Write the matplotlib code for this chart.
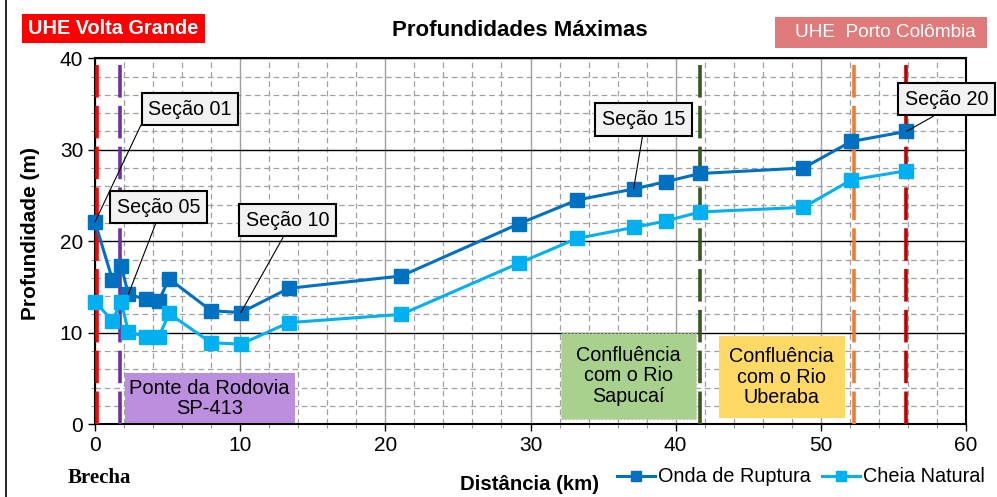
import matplotlib
matplotlib.use("Agg")
import matplotlib.pyplot as plt
from matplotlib.patches import Rectangle
from matplotlib.lines import Line2D
from matplotlib.ticker import MultipleLocator

plt.rcParams['font.family'] = ['Liberation Sans', 'DejaVu Sans']

# distancia (km) e profundidades maximas (m)
dist = [0.0, 1.2, 1.8, 2.3, 3.5, 4.4, 5.1, 8.0, 10.05, 13.35,
        21.1, 29.2, 33.2, 37.1, 39.3, 41.7, 48.8, 52.1, 55.9]
onda_ruptura = [22.1, 15.8, 17.3, 14.2, 13.65, 13.5, 15.9, 12.4, 12.2, 14.85,
                16.2, 21.9, 24.5, 25.7, 26.5, 27.4, 28.0, 30.9, 32.0]
cheia_natural = [13.4, 11.3, 13.4, 10.1, 9.55, 9.55, 12.1, 8.9, 8.75, 11.1,
                 12.0, 17.6, 20.3, 21.5, 22.2, 23.2, 23.7, 26.7, 27.7]

# secoes anotadas (indice do ponto na serie)
secoes = ["Seção 01", "Seção 05", "Seção 10", "Seção 15", "Seção 20"]
secoes_idx = [0, 3, 8, 13, 18]

# linhas verticais de referencia
ref_x = [0.14, 1.74, 41.7, 52.3, 55.85]
ref_cores = ['#FF0000', '#7030A0', '#375623', '#ED7D31', '#C00000']

fig = plt.figure(figsize=(9.97, 4.97), dpi=100)
ax = fig.add_axes([95 / 997, (497 - 424.2) / 497, 871 / 997, 366 / 497])

ax.set_xlim(0, 60)
ax.set_ylim(0, 40)
ax.xaxis.set_major_locator(MultipleLocator(10))
ax.yaxis.set_major_locator(MultipleLocator(10))
ax.xaxis.set_minor_locator(MultipleLocator(2))
ax.yaxis.set_minor_locator(MultipleLocator(2))
ax.grid(which='minor', color='#A0A0A0', linestyle=(0, (4.5, 3)), linewidth=0.9)
ax.grid(which='major', axis='x', color='#A0A0A0', linestyle='-', linewidth=1.0)
ax.grid(which='major', axis='y', color='black', linestyle='-', linewidth=1.0)
ax.set_axisbelow(True)
ax.tick_params(which='major', direction='out', length=5, labelsize=15, width=1)
ax.tick_params(which='minor', direction='out', length=3, color='#808080')
for s in ax.spines.values():
    s.set_linewidth(1.5)

# caixas de texto internas
ax.add_patch(Rectangle((2.08, 0), 11.69, 5.6, facecolor='#BC8FDE', edgecolor='none', zorder=2))
ax.text(7.9, 2.8, "Ponte da Rodovia\nSP-413", ha='center', va='center', fontsize=14.5,
        linespacing=1.1, zorder=3)
ax.add_patch(Rectangle((32.1, 0.54), 9.27, 9.46, facecolor='#A9D18E', edgecolor='#C0C0C0',
                       linestyle=':', zorder=2))
ax.text(36.75, 5.3, "Confluência\ncom o Rio\nSapucaí", ha='center', va='center', fontsize=14.2,
        linespacing=1.1, zorder=3)
ax.add_patch(Rectangle((42.97, 0.65), 8.71, 8.99, facecolor='#FFD966', edgecolor='none', zorder=2))
ax.text(47.3, 5.15, "Confluência\ncom o Rio\nUberaba", ha='center', va='center', fontsize=14.2,
        linespacing=1.1, zorder=3)

for xv, c in zip(ref_x, ref_cores):
    ax.axvline(xv, color=c, linewidth=2.6, linestyle=(0, (9, 2.3)), zorder=4)

ax.plot(dist, onda_ruptura, color='#0070C0', marker='s', markersize=10, linewidth=2.2,
        zorder=5, clip_on=False)
ax.plot(dist, cheia_natural, color='#00B0F0', marker='s', markersize=10, linewidth=2.2,
        zorder=5, clip_on=False)

# rotulos das secoes
rot_pos = [(6.55, 34.4), (4.36, 23.7), (13.25, 22.3), (37.8, 33.3), (58.65, 35.5)]
rot_rel = [(0, 0.5), (0.5, 0), (0.5, 0), (0.5, 0), (0.5, 0)]
for nome, i, pos, rel in zip(secoes, secoes_idx, rot_pos, rot_rel):
    ax.annotate(nome, xy=(dist[i], onda_ruptura[i]), xytext=pos, ha='center', va='center',
                fontsize=14.2, zorder=6, annotation_clip=False,
                bbox=dict(boxstyle='square,pad=0.33', facecolor='#F2F2F2', edgecolor='black',
                          linewidth=1.5),
                arrowprops=dict(arrowstyle='-', color='black', linewidth=0.8, relpos=rel,
                                shrinkA=0, shrinkB=0))

# elementos da figura
fig.patches.append(Rectangle((21.7 / 997, 1 - 42.7 / 497), 183.3 / 997, 28.7 / 497,
                             facecolor='#FF0000', edgecolor='none', transform=fig.transFigure))
fig.text(113.3 / 997, 1 - 28.5 / 497, "UHE Volta Grande", color='white', fontweight='bold',
         fontsize=14.3, ha='center', va='center')
fig.patches.append(Rectangle((775 / 997, 1 - 48.3 / 497), 212 / 997, 31.6 / 497,
                             facecolor='#E07B7B', edgecolor='none', transform=fig.transFigure))
fig.text(885 / 997, 1 - 32.5 / 497, "UHE  Porto Colômbia", color='white',
         fontsize=13.7, ha='center', va='center')
fig.text(520 / 997, 1 - 30 / 497, "Profundidades Máximas", fontweight='bold', fontsize=16,
         ha='center', va='center')
fig.text(30 / 997, 1 - 233 / 497, "Profundidade (m)", fontweight='bold', fontsize=15,
         rotation=90, ha='center', va='center')
fig.text(529 / 997, 1 - 485 / 497, "Distância (km)", fontweight='bold', fontsize=14.7,
         ha='center', va='center')
fig.text(99 / 997, 1 - 478 / 497, "Brecha", family='Liberation Serif', fontweight='bold',
         fontsize=15, ha='center', va='center')
fig.add_artist(Line2D([6 / 997, 6 / 997], [0, 1], color='black', linewidth=1.2))

handles = [Line2D([], [], color='#0070C0', marker='s', markersize=7, linewidth=2.2),
           Line2D([], [], color='#00B0F0', marker='s', markersize=7, linewidth=2.2)]
fig.legend(handles, ["Onda de Ruptura", "Cheia Natural"], ncol=2, frameon=False,
           loc='center right', bbox_to_anchor=(0.998, 1 - 477 / 497), fontsize=14.3,
           handlelength=1.9, handletextpad=0.15, columnspacing=0.6, borderpad=0)

fig.savefig("out.png", dpi=100)
